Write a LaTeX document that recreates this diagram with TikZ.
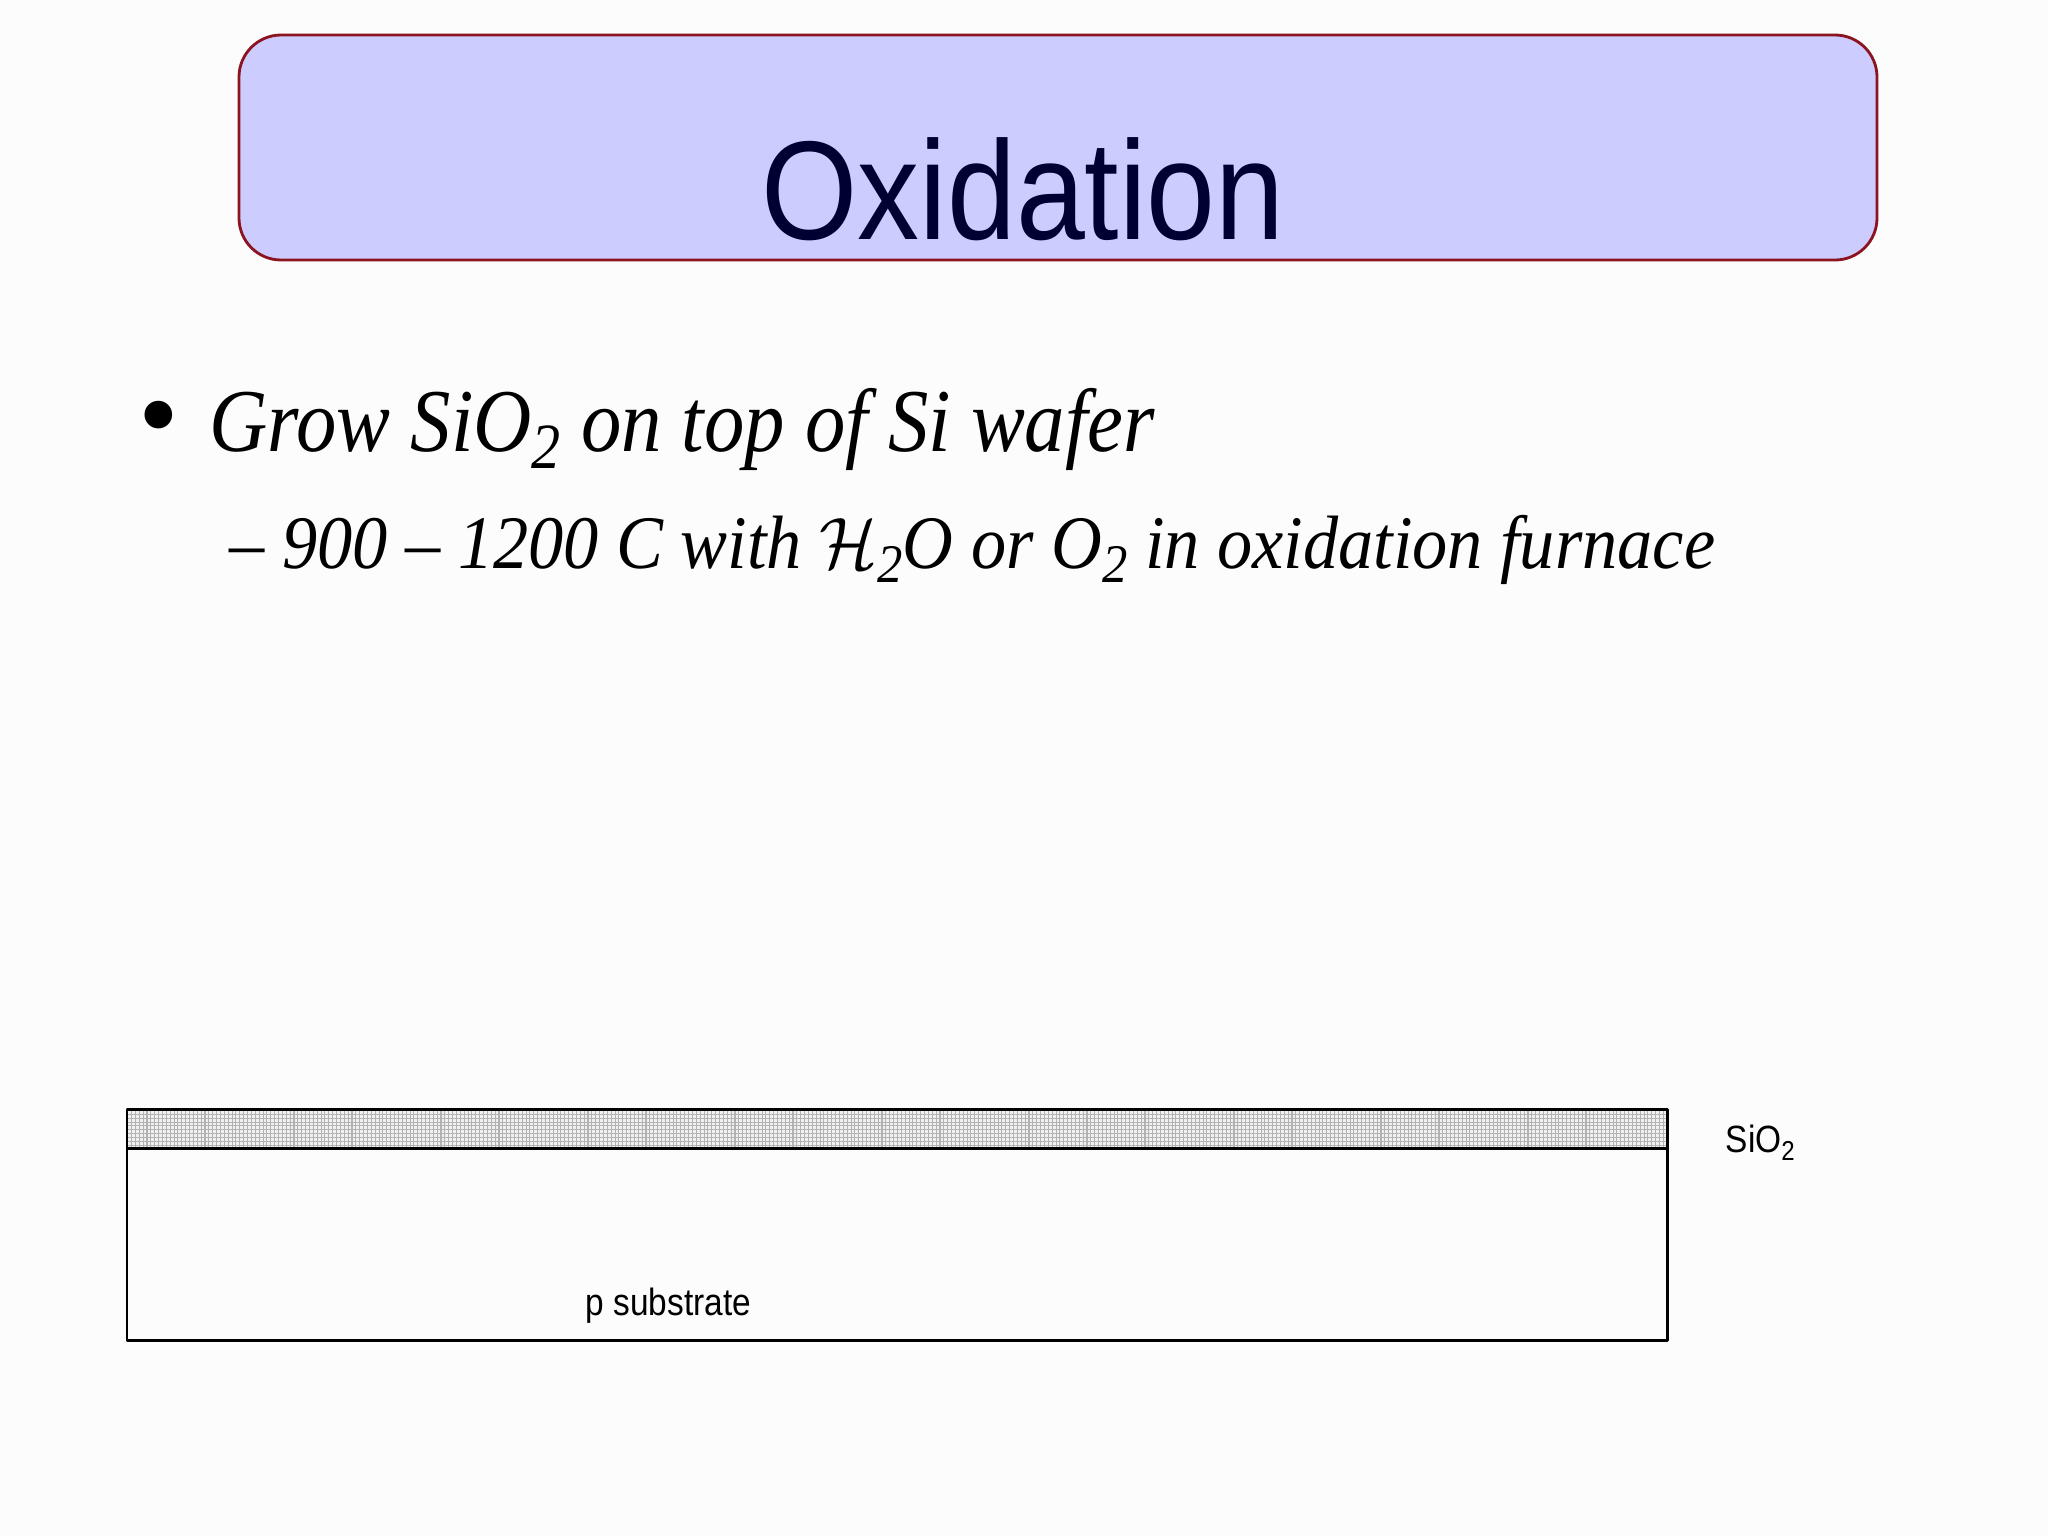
\documentclass[tikz,border=0pt]{standalone}
\usepackage{fontspec}
\usepackage{graphicx}
\usepackage{tikz}
\usetikzlibrary{patterns.meta}
\setmainfont{Liberation Serif}
\setsansfont{Liberation Sans}
\definecolor{ccccff}{rgb}{0.8,0.8,1.}
\definecolor{qqqqtt}{rgb}{0.,0.,0.2}
\definecolor{ttqqqq}{rgb}{0.55,0.08,0.13}
\definecolor{fcfcfc}{rgb}{0.99,0.99,0.99}
\newcommand{\squeeze}[2][0.88]{\scalebox{#1}[1]{#2}}
\newcommand{\dn}[1]{\raisebox{-0.42ex}{\scalebox{0.72}{#1}}}
\tikzset{
  slidetext/.style={inner sep=0pt,anchor=base west},
  labeltext/.style={inner sep=0pt,anchor=base west,font=\sffamily\fontsize{10.8}{13}\selectfont}
}

\begin{document}
\begin{tikzpicture}[line cap=round,line join=round,x=0.01cm,y=-0.01cm]
            \useasboundingbox (0,0) rectangle (2048,1536);
            \fill[fcfcfc] (0,0) rectangle (2048,1536);
            % title box
            \draw [line width=0.8pt,color=ttqqqq,fill=ccccff,rounded corners=0.42cm] (239,35) rectangle (1877,260);
            \node (title) [inner sep=0pt,anchor=base,text=qqqqtt,font=\sffamily\fontsize{40}{48}\selectfont] at (1023,239) {\squeeze{Oxidation}};
            % bullets
            \node (dot) [inner sep=0pt,anchor=base,font=\fontsize{33}{36}\selectfont] at (159,453) {\textbullet};
            \node (grow) [slidetext,font=\itshape\fontsize{25.5}{30}\selectfont] at (209,451) {\squeeze[0.90]{Grow SiO\dn{2} on top of Si wafer}};
            \node (furnace) [slidetext,font=\itshape\fontsize{21.5}{26}\selectfont] at (229,568) {\squeeze[0.93]{-- 900 -- 1200 C with $\mathcal{H}$\dn{2}O or O\dn{2} in oxidation furnace}};
            % wafer cross section
            \fill[black!6] (127,1109) rectangle (1667,1148);
            \fill[pattern={Lines[angle=0,distance=1.1pt,line width=0.3pt]},pattern color=black!30] (127,1109) rectangle (1667,1148);
            \fill[pattern={Lines[angle=90,distance=1.1pt,line width=0.3pt]},pattern color=black!30] (127,1109) rectangle (1667,1148);
            \draw [line width=0.85pt] (127,1109) rectangle (1667,1148);
            \draw [line width=0.85pt] (127,1148) rectangle (1667,1340);
            \node (oxide) [labeltext] at (1725,1152) {\squeeze{SiO\dn{2}}};
            \node (substrate) [labeltext] at (585,1315) {\squeeze{p substrate}};
\end{tikzpicture}
\end{document}
